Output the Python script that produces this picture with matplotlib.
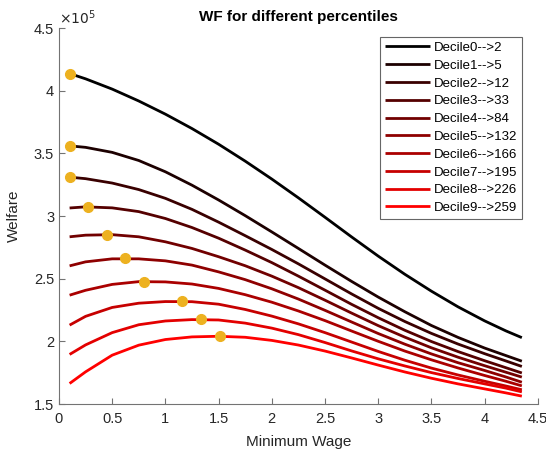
import matplotlib
matplotlib.use("Agg")
import matplotlib.pyplot as plt
from matplotlib.ticker import FuncFormatter

plt.rcParams['font.family'] = ['Liberation Sans', 'DejaVu Sans']

# Minimum wage grid (x axis)
min_wage = [0.1, 0.25, 0.5, 0.75, 1.0, 1.25, 1.5, 1.75, 2.0, 2.25, 2.5, 2.75,
            3.0, 3.25, 3.5, 3.75, 4.0, 4.2, 4.35]

# Welfare per decile, in units of 1e5
wf_d0 = [4.138, 4.096, 4.014, 3.919, 3.814, 3.699, 3.574, 3.439, 3.296, 3.146, 2.991, 2.834,
         2.681, 2.536, 2.401, 2.276, 2.164, 2.084, 2.030]
wf_d1 = [3.561, 3.549, 3.509, 3.444, 3.354, 3.247, 3.129, 3.004, 2.874, 2.742, 2.609, 2.479,
         2.354, 2.237, 2.127, 2.032, 1.947, 1.887, 1.842]
wf_d2 = [3.311, 3.299, 3.264, 3.212, 3.142, 3.054, 2.952, 2.844, 2.734, 2.619, 2.499, 2.379,
         2.264, 2.159, 2.064, 1.979, 1.902, 1.844, 1.800]
wf_d3 = [3.065, 3.074, 3.066, 3.036, 2.981, 2.909, 2.824, 2.729, 2.629, 2.521, 2.409, 2.296,
         2.189, 2.089, 1.999, 1.919, 1.846, 1.790, 1.748]
wf_d4 = [2.835, 2.848, 2.852, 2.835, 2.795, 2.742, 2.676, 2.604, 2.521, 2.429, 2.329, 2.226,
         2.126, 2.034, 1.949, 1.874, 1.806, 1.754, 1.715]
wf_d5 = [2.603, 2.635, 2.659, 2.659, 2.643, 2.609, 2.555, 2.493, 2.420, 2.338, 2.248, 2.155,
         2.063, 1.978, 1.900, 1.830, 1.768, 1.716, 1.674]
wf_d6 = [2.369, 2.408, 2.455, 2.477, 2.475, 2.458, 2.423, 2.373, 2.313, 2.243, 2.166, 2.083,
         2.001, 1.923, 1.853, 1.788, 1.728, 1.682, 1.645]
wf_d7 = [2.130, 2.200, 2.271, 2.305, 2.318, 2.317, 2.297, 2.255, 2.202, 2.140, 2.070, 1.995,
         1.920, 1.850, 1.787, 1.732, 1.682, 1.644, 1.614]
wf_d8 = [1.896, 1.972, 2.070, 2.133, 2.163, 2.174, 2.171, 2.146, 2.106, 2.054, 1.991, 1.924,
         1.861, 1.804, 1.751, 1.704, 1.661, 1.627, 1.597]
wf_d9 = [1.664, 1.757, 1.890, 1.970, 2.015, 2.036, 2.041, 2.033, 2.008, 1.971, 1.923, 1.868,
         1.811, 1.756, 1.706, 1.661, 1.621, 1.589, 1.563]
welfare = [wf_d0, wf_d1, wf_d2, wf_d3, wf_d4, wf_d5, wf_d6, wf_d7, wf_d8, wf_d9]

labels = ["Decile0-->2", "Decile1-->5", "Decile2-->12", "Decile3-->33", "Decile4-->84",
          "Decile5-->132", "Decile6-->166", "Decile7-->195", "Decile8-->226", "Decile9-->259"]

# optimum (max welfare) per decile
opt_wage = [0.1, 0.1, 0.1, 0.27, 0.447, 0.625, 0.80, 1.157, 1.332, 1.51]
opt_wf = [4.138, 3.561, 3.311, 3.074, 2.853, 2.662, 2.478, 2.319, 2.175, 2.041]

fig = plt.figure(figsize=(5.46, 4.55), dpi=100)
ax = fig.add_axes([0.108, 0.112, 0.877, 0.826])

n = len(welfare)
for i in range(n):
    ax.plot(min_wage, [v * 1e5 for v in welfare[i]], color=(i / (n - 1), 0, 0),
            lw=2, label=labels[i], solid_capstyle='butt', solid_joinstyle='round')
for i in range(n):
    ax.plot(opt_wage[i], opt_wf[i] * 1e5, 'o', color='#EDB120', ms=7, mec='#EDB120', zorder=5)

ax.set_xlim(0, 4.5)
ax.set_ylim(1.5e5, 4.5e5)
ax.set_xticks([0, 0.5, 1, 1.5, 2, 2.5, 3, 3.5, 4, 4.5])
ax.set_yticks([1.5e5, 2e5, 2.5e5, 3e5, 3.5e5, 4e5, 4.5e5])
ax.xaxis.set_major_formatter(FuncFormatter(lambda v, p: '%g' % v))
ax.yaxis.set_major_formatter(FuncFormatter(lambda v, p: '%g' % (v / 1e5)))
ax.text(0.0, 1.003, r'$\times10^{5}$', transform=ax.transAxes, ha='left', va='bottom',
        fontsize=10, color='#262626')

for s in ['top', 'right']:
    ax.spines[s].set_visible(False)
for s in ['left', 'bottom']:
    ax.spines[s].set_color('0.45')
    ax.spines[s].set_linewidth(0.8)
ax.tick_params(direction='in', length=4, width=0.8, color='0.45', labelcolor='#262626',
               labelsize=10.5)
ax.tick_params(axis='x', pad=6)

ax.set_xlabel('Minimum Wage', fontsize=11, color='#262626', labelpad=6)
ax.set_ylabel('Welfare', fontsize=11, color='#262626', labelpad=9)
ax.set_title('WF for different percentiles', fontsize=11, fontweight='bold', pad=5)

leg = ax.legend(loc='upper right', bbox_to_anchor=(0.9666, 0.976), borderaxespad=0,
                fontsize=9.5, handlelength=3.4, handletextpad=0.3, labelspacing=0.42,
                borderpad=0.35, fancybox=False, framealpha=1)
leg.get_frame().set_edgecolor('0.4')
leg.get_frame().set_linewidth(0.8)

fig.savefig('out.png', dpi=100)
